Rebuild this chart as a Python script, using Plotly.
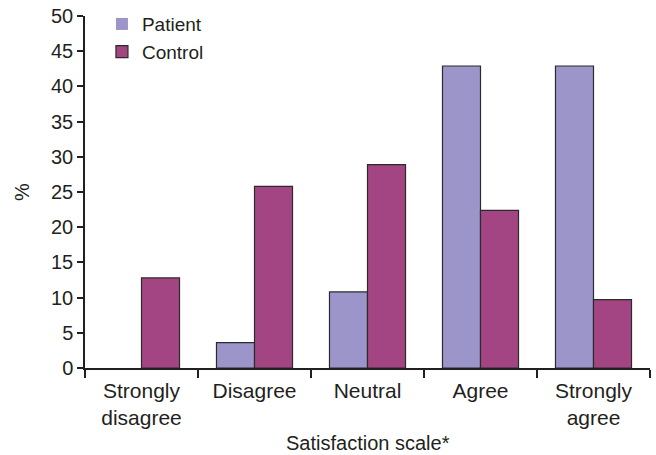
import plotly.graph_objects as go

categories = ["Strongly<br>disagree", "Disagree", "Neutral", "Agree", "Strongly<br>agree"]
patient = [0, 3.6, 10.8, 42.9, 42.9]
control = [12.8, 25.8, 28.9, 22.4, 9.7]
y_ticks = [0, 5, 10, 15, 20, 25, 30, 35, 40, 45, 50]

font_family = "Liberation Sans, Arial, sans-serif"
text_color = "#231f20"
edge = "#2b2b2b"

def outline(values):
    return [0 if v == 0 else 1.2 for v in values]

fig = go.Figure()
fig.add_trace(go.Bar(name="Patient", x=categories, y=patient,
                     marker=dict(color="#9b95c9", line=dict(color=edge, width=outline(patient)))))
fig.add_trace(go.Bar(name="Control", x=categories, y=control,
                     marker=dict(color="#a34582", line=dict(color=edge, width=outline(control)))))

fig.update_layout(
    width=656, height=455,
    margin=dict(l=85, r=6, t=16, b=87, autoexpand=False),
    barmode="group", bargap=0.327, bargroupgap=0,
    plot_bgcolor="white", paper_bgcolor="white",
    font=dict(family=font_family, size=20, color=text_color),
    legend=dict(x=0.03, y=1.031, xanchor="left", yanchor="top",
                bgcolor="rgba(0,0,0,0)", font=dict(size=19),
                tracegroupgap=0),
    showlegend=True,
    annotations=[
        dict(text="Satisfaction scale*", xref="paper", yref="paper", x=0.5, y=0,
             xanchor="center", yanchor="middle", yshift=-75, showarrow=False,
             font=dict(size=20)),
        dict(text="%", xref="paper", yref="paper", x=0, y=0.5,
             xanchor="center", yanchor="middle", xshift=-63, showarrow=False,
             textangle=-90, font=dict(size=20)),
    ],
)
fig.update_xaxes(
    type="category", showline=True, linecolor=text_color, linewidth=1.5,
    ticks="outside", tickson="boundaries", ticklen=8, tickcolor=text_color, tickwidth=1.5,
    tickfont=dict(size=21), automargin=False, ticklabelstandoff=3,
    showgrid=False, zeroline=False,
)
fig.update_yaxes(
    range=[0, 50], tickvals=y_ticks, showline=True, linecolor=text_color, linewidth=1.5,
    ticks="outside", ticklen=6, tickcolor=text_color, tickwidth=1.5,
    tickfont=dict(size=20), automargin=False,
    showgrid=False, zeroline=False,
)

# remove the browser's default 8px body margin so the figure fills the window
fig.write_html("out.html", config={"displayModeBar": False},
               post_script="document.body.style.margin='0px';")
